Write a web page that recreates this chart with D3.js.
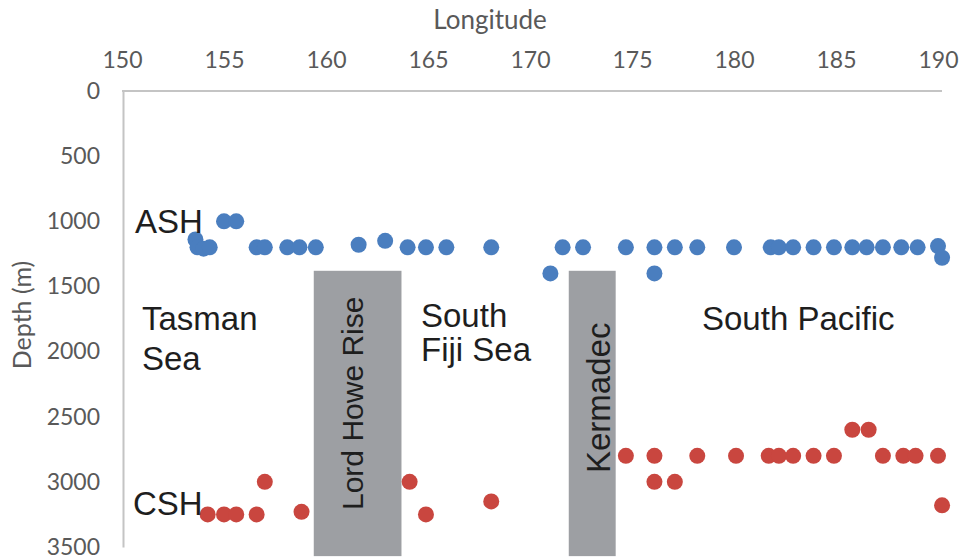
<!DOCTYPE html>
<html>
<head>
<meta charset="utf-8">
<script src="https://cdn.jsdelivr.net/npm/d3@7"></script>
<style>
  body { margin: 0; background: #fff; }
  .axis text { font-family: Lato, "Open Sans", sans-serif; font-size: 23px; fill: #595959; }
  .axis path { stroke: #c4c4c4; stroke-width: 2; }
  .note { font-family: "Liberation Sans", Arial, sans-serif; font-size: 33px; fill: #1e1e1e; }
</style>
</head>
<body>
<svg width="964" height="560"></svg>
<script>
// longitude ticks and depth ticks
const lonTicks = [150, 155, 160, 165, 170, 175, 180, 185, 190];
const depthTicks = [0, 500, 1000, 1500, 2000, 2500, 3000, 3500];

// ASH (blue) samples: longitude, depth (m)
const ashLon = [153.6, 153.7, 154.0, 154.3, 155.0, 155.6, 156.6, 157.0, 158.1, 158.7,
  159.5, 161.6, 162.9, 164.0, 164.9, 165.9, 168.1, 171.0, 171.6, 172.6,
  174.7, 176.1, 176.1, 177.1, 178.2, 180.0, 181.8, 182.2, 182.9, 183.9,
  184.9, 185.8, 186.5, 187.3, 188.2, 189.0, 190.0, 190.2];
const ashDepth = [1140, 1200, 1210, 1200, 1000, 1000, 1200, 1200, 1200, 1200,
  1200, 1180, 1150, 1200, 1200, 1200, 1200, 1400, 1200, 1200,
  1200, 1200, 1400, 1200, 1200, 1200, 1200, 1200, 1200, 1200,
  1200, 1200, 1200, 1200, 1200, 1200, 1190, 1280];

// CSH (red) samples
const cshLon = [154.2, 155.0, 155.6, 156.6, 157.0, 158.8, 164.1, 164.9, 168.1, 174.7,
  176.1, 176.1, 177.1, 178.2, 180.1, 181.7, 182.2, 182.9, 183.9, 184.9,
  185.8, 186.6, 187.3, 188.3, 188.9, 190.0, 190.2];
const cshDepth = [3250, 3250, 3250, 3250, 3000, 3230, 3000, 3250, 3150, 2800,
  2800, 3000, 3000, 2800, 2800, 2800, 2800, 2800, 2800, 2800,
  2600, 2600, 2800, 2800, 2800, 2800, 3180];

// ridges (grey bands): name, west lon, east lon, top depth, bottom depth
const ridgeNames = ["Lord Howe Rise", "Kermadec"];
const ridgeWest = [159.4, 171.9];
const ridgeEast = [163.7, 174.2];
const ridgeTop = [1380, 1380];
const ridgeBottom = [3570, 3570];

const svg = d3.select("svg");

const x = d3.scaleLinear().domain([150, 190]).range([122, 938]),
    y = d3.scaleLinear().domain([0, 3500]).range([91, 547]);

const xAxis = d3.axisTop(x).tickValues(lonTicks).tickFormat(d3.format("d"))
        .tickSize(0).tickSizeOuter(0).tickPadding(23),
    yAxis = d3.axisLeft(y).tickValues(depthTicks).tickFormat(d3.format("d"))
        .tickSize(0).tickSizeOuter(0).tickPadding(23);

// ridges
svg.selectAll("rect.ridge")
    .data(ridgeNames)
    .enter()
    .append("rect")
    .attr("class", "ridge")
    .attr("x", (d, i) => x(ridgeWest[i]))
    .attr("y", (d, i) => y(ridgeTop[i]))
    .attr("width", (d, i) => x(ridgeEast[i]) - x(ridgeWest[i]))
    .attr("height", (d, i) => y(ridgeBottom[i]) - y(ridgeTop[i]))
    .attr("fill", "#9d9fa3");

const gx = svg.append("g")
    .attr("class", "axis")
    .attr("transform", "translate(0," + y(0) + ")")
    .call(xAxis);
gx.select(".domain").attr("d", "M" + x(150) + ",0H942");

const gy = svg.append("g")
    .attr("class", "axis")
    .attr("transform", "translate(" + (x(150) + 1) + ",0)")
    .call(yAxis);

svg.append("text")
    .attr("x", 490).attr("y", 29)
    .attr("text-anchor", "middle")
    .style("font-family", "Lato, 'Open Sans', sans-serif")
    .style("font-size", "26px")
    .style("fill", "#595959")
    .text("Longitude");

svg.append("text")
    .attr("transform", "translate(31,315) rotate(-90)")
    .attr("text-anchor", "middle")
    .style("font-family", "Lato, 'Open Sans', sans-serif")
    .style("font-size", "25px")
    .style("fill", "#595959")
    .text("Depth (m)");

// points
svg.selectAll("circle.ash")
    .data(ashLon)
    .enter()
    .append("circle")
    .attr("class", "ash")
    .attr("cx", d => x(d))
    .attr("cy", (d, i) => y(ashDepth[i]))
    .attr("r", 8)
    .attr("fill", "#4a7ebf");

svg.selectAll("circle.csh")
    .data(cshLon)
    .enter()
    .append("circle")
    .attr("class", "csh")
    .attr("cx", d => x(d))
    .attr("cy", (d, i) => y(cshDepth[i]))
    .attr("r", 8)
    .attr("fill", "#c9463f");

// region labels
const note = (tx, ty, s, rot) => {
  const t = svg.append("text").attr("class", "note").text(s);
  if (rot) t.attr("transform", "translate(" + tx + "," + ty + ") rotate(-90)");
  else t.attr("x", tx).attr("y", ty);
  return t;
};
note(135, 233, "ASH");
note(133, 515, "CSH");
note(142, 330, "Tasman");
note(142, 370, "Sea");
note(421, 327, "South");
note(421, 361, "Fiji Sea");
note(702, 330, "South Pacific");
note(363, 510, ridgeNames[0], true).style("font-size", "30px");
note(610, 473, ridgeNames[1], true);
</script>
</body>
</html>
